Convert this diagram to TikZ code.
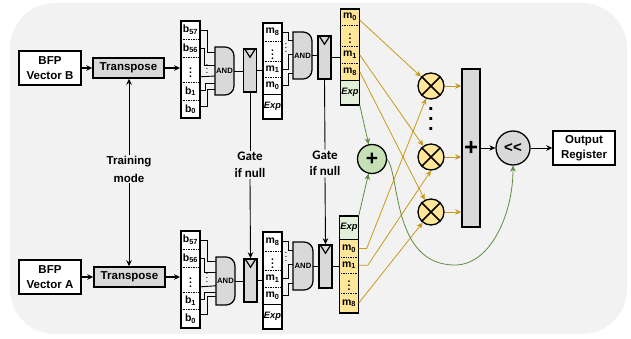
\documentclass[tikz,border=0pt]{standalone}
\usepackage{amsmath}
\usepackage{fontspec}
\setmainfont{Liberation Sans}
\newfontfamily\gatefont{Carlito}
\usetikzlibrary{arrows.meta, positioning, fit}
\definecolor{panel}{HTML}{F2F2F2}
\definecolor{unit}{HTML}{D9D9D9}
\definecolor{mant}{HTML}{FFE699}
\definecolor{expo}{HTML}{E2F0D9}
\definecolor{addgreen}{HTML}{C5E0B4}
\definecolor{wireamber}{HTML}{C99A17}
\definecolor{wiregreen}{HTML}{5E8C45}

\begin{document}
\begin{tikzpicture}[x=1pt, y=-1pt, node distance=0pt, >={Stealth[length=6pt, width=5.5pt]},
 box/.style={draw, line width=1.5pt, fill=white, align=center, inner sep=0pt, font=\bfseries\fontsize{11.5}{14.5}\selectfont},
 graybox/.style={box, fill=unit},
 regbox/.style={draw, line width=1.5pt, fill=unit, minimum width=13pt, inner sep=0pt},
 regmark/.style={line width=1.2pt},
 cell/.style={minimum width=19pt, inner sep=0pt, font=\bfseries\fontsize{10.5}{12}\selectfont},
 expcell/.style={cell, font=\bfseries\itshape\fontsize{9.3}{11}\selectfont},
 column/.style={draw, line width=1.5pt, inner sep=0pt, fit=#1},
 sep/.style={densely dotted, line width=0.7pt},
 andshape/.style={draw, line width=1.2pt, fill=unit, rounded corners=9pt},
 andlabel/.style={inner sep=0pt, minimum width=19pt, minimum height=47pt, font=\bfseries\fontsize{7.7}{9}\selectfont},
 dotlabel/.style={inner sep=0pt, font=\fontsize{10}{12}\selectfont},
 label/.style={align=center, inner sep=1pt, font=\bfseries\fontsize{11.5}{18}\selectfont},
 gatelabel/.style={align=center, inner sep=1pt, font=\gatefont\bfseries\fontsize{13}{16.5}\selectfont},
 mult/.style={draw, circle, line width=1.3pt, fill=mant, minimum size=26pt, inner sep=0pt, path picture={\draw[line width=1.6pt] (path picture bounding box.north west)--(path picture bounding box.south east) (path picture bounding box.north east)--(path picture bounding box.south west);}},
 wire/.style={line width=0.9pt},
 arrow/.style={->, line width=0.9pt},
 thickarrow/.style={->, line width=1.2pt},
 amber/.style={->, wireamber, line width=0.8pt},
 green/.style={wiregreen, line width=0.8pt}]

\useasboundingbox (0,0) rectangle (631,339);
\fill[panel, rounded corners=45pt] (10,3) rectangle (627,334);

\node[box, minimum width=62pt, minimum height=34pt] (vecB) at (50,68) {BFP\\Vector B};
\node[box, minimum width=62pt, minimum height=34pt] (vecA) at (50,277) {BFP\\Vector A};
\node[graybox, minimum width=71pt, minimum height=20pt] (transB) at (128.5,68) {Transpose};
\node[graybox, minimum width=71pt, minimum height=20pt] (transA) at (129.5,277) {Transpose};
\node[label] (train) at (129,169) {Training\\mode};

\node[cell, minimum height=18pt, fill=white] (bB57) at (190.5,30) {b\textsubscript{57}};
\node[cell, minimum height=18pt, fill=white, below=of bB57] (bB56) {b\textsubscript{56}};
\node[cell, minimum height=24pt, fill=white, below=of bB56] (bBdots) {\(\vdots\)};
\node[cell, minimum height=18pt, fill=white, below=of bBdots] (bB1) {b\textsubscript{1}};
\node[cell, minimum height=17pt, fill=white, below=of bB1] (bB0) {b\textsubscript{0}};
\node[column={(bB57)(bB0)}] (bcolB) {};
\draw[sep] (bB57.south west)--(bB57.south east) (bB56.south west)--(bB56.south east) (bBdots.south west)--(bBdots.south east) (bB1.south west)--(bB1.south east);

\node[cell, minimum height=18pt, fill=white] (bA57) at (190.5,240) {b\textsubscript{57}};
\node[cell, minimum height=18pt, fill=white, below=of bA57] (bA56) {b\textsubscript{56}};
\node[cell, minimum height=24pt, fill=white, below=of bA56] (bAdots) {\(\vdots\)};
\node[cell, minimum height=17pt, fill=white, below=of bAdots] (bA1) {b\textsubscript{1}};
\node[cell, minimum height=18pt, fill=white, below=of bA1] (bA0) {b\textsubscript{0}};
\node[column={(bA57)(bA0)}] (bcolA) {};
\draw[sep] (bA57.south west)--(bA57.south east) (bA56.south west)--(bA56.south east) (bAdots.south west)--(bAdots.south east) (bA1.south west)--(bA1.south east);

\draw[andshape] (215,47)--(234,47)--(234,95)[sharp corners]--(215,95)--cycle;
\node[andlabel] (andB1) at (224.5,71) {AND};
\draw[andshape] (216,257)--(235,257)--(235,305)[sharp corners]--(216,305)--cycle;
\node[andlabel] (andA1) at (225.5,281) {AND};
\draw[andshape] (293,32)--(312,32)--(312,79)[sharp corners]--(293,79)--cycle;
\node[andlabel] (andB2) at (302.5,55.5) {AND};
\draw[andshape] (293,242)--(313,242)--(313,290)[sharp corners]--(293,290)--cycle;
\node[andlabel] (andA2) at (303,266) {AND};

\draw[wire] (bB57.east)--++(7,0)|-([yshift=19pt]andB1.west);
\draw[wire] (bB56.east)--++(4,0)|-([yshift=6pt]andB1.west);
\draw[wire] ([yshift=-7pt]bBdots.east)--([yshift=-5pt]andB1.west);
\draw[wire] ([yshift=1pt]bB1.east)--++(5,0)|-([yshift=-12pt]andB1.west);
\draw[wire] ([yshift=3pt]bB0.east)--++(7,0)|-([yshift=-18pt]andB1.west);
\node[dotlabel] (dotsB1) at (207,66) {\(\vdots\)};

\draw[wire] (bA57.east)--++(7,0)|-([yshift=20pt]andA1.west);
\draw[wire] (bA56.east)--++(4,0)|-([yshift=9pt]andA1.west);
\draw[wire] ([yshift=-7pt]bAdots.east)--([yshift=-6pt]bAdots.east-|andA1.west);
\draw[wire] ([yshift=1pt]bA1.east)--++(4,0)|-([yshift=-11pt]andA1.west);
\draw[wire] ([yshift=4pt]bA0.east)--++(7,0)|-([yshift=-15pt]andA1.west);
\node[dotlabel] (dotsA1) at (207,275) {\(\vdots\)};

\node[regbox, minimum height=43pt] (regB1) at (250,70.5) {};
\node[regbox, minimum height=43pt] (regA1) at (250.5,280.5) {};
\node[regbox, minimum height=43pt] (regB2) at (324.5,57.5) {};
\node[regbox, minimum height=43pt] (regA2) at (325.5,266.5) {};
\draw[regmark] ([xshift=1.5pt]regB1.north west)--([yshift=-9pt]regB1.north)--([xshift=-1.5pt]regB1.north east);
\draw[regmark] ([xshift=1.5pt]regA1.north west)--([yshift=-9pt]regA1.north)--([xshift=-1.5pt]regA1.north east);
\draw[regmark] ([xshift=1.5pt]regB2.north west)--([yshift=-9pt]regB2.north)--([xshift=-1.5pt]regB2.north east);
\draw[regmark] ([xshift=1.5pt]regA2.north west)--([yshift=-9pt]regA2.north)--([xshift=-1.5pt]regA2.north east);

\node[cell, minimum height=18pt, fill=white] (mB8) at (272.5,32) {m\textsubscript{8}};
\node[cell, minimum height=20pt, fill=white, below=of mB8] (mBdots) {\(\vdots\)};
\node[cell, minimum height=15pt, fill=white, below=of mBdots] (mB1) {m\textsubscript{1}};
\node[cell, minimum height=17pt, fill=white, below=of mB1] (mB0) {m\textsubscript{0}};
\node[expcell, minimum height=24pt, fill=white, below=of mB0] (mBexp) {Exp};
\node[column={(mB8)(mBexp)}] (mcolB) {};
\draw[sep] (mB8.south west)--(mB8.south east) (mBdots.south west)--(mBdots.south east) (mB1.south west)--(mB1.south east);
\draw[wire] (mB0.south west)--(mB0.south east);

\node[cell, minimum height=19pt, fill=white] (mA8) at (272.5,241.5) {m\textsubscript{8}};
\node[cell, minimum height=19pt, fill=white, below=of mA8] (mAdots) {\(\vdots\)};
\node[cell, minimum height=16pt, fill=white, below=of mAdots] (mA1) {m\textsubscript{1}};
\node[cell, minimum height=17pt, fill=white, below=of mA1] (mA0) {m\textsubscript{0}};
\node[expcell, minimum height=24pt, fill=white, below=of mA0] (mAexp) {Exp};
\node[column={(mA8)(mAexp)}] (mcolA) {};
\draw[sep] (mA8.south west)--(mA8.south east) (mAdots.south west)--(mAdots.south east) (mA1.south west)--(mA1.south east);
\draw[wire] (mA0.south west)--(mA0.south east);

\draw[wire] (mB8.east)--++(6,0)|-([yshift=15.5pt]andB2.west);
\draw[wire] (mB1.east)--++(6,0)|-([yshift=1.5pt]andB2.west);
\draw[wire] (mB0.east)--++(6,0)|-([yshift=-17.5pt]andB2.west);
\node[dotlabel] (dotsB2) at (286,45) {\(\vdots\)};
\draw[wire] (mA8.east)--++(6,0)|-([yshift=16pt]andA2.west);
\draw[wire] (mA1.east)--++(6,0)|-([yshift=2pt]andA2.west);
\draw[wire] (mA0.east)--++(6,0)|-([yshift=-17pt]andA2.west);
\node[dotlabel] (dotsA2) at (286,254) {\(\vdots\)};

\node[cell, minimum height=16pt, fill=mant] (yB0) at (350,17) {m\textsubscript{0}};
\node[cell, minimum height=21pt, fill=mant, below=of yB0] (yBdots) {\(\vdots\)};
\node[cell, minimum height=16pt, fill=mant, below=of yBdots] (yB1) {m\textsubscript{1}};
\node[cell, minimum height=17pt, fill=mant, below=of yB1] (yB8) {m\textsubscript{8}};
\node[expcell, minimum height=24pt, fill=expo, below=of yB8] (yBexp) {Exp};
\node[column={(yB0)(yBexp)}] (ycolB) {};
\draw[sep] (yB0.south west)--(yB0.south east) (yBdots.south west)--(yBdots.south east) (yB1.south west)--(yB1.south east);
\draw[wire] (yB8.south west)--(yB8.south east);

\node[expcell, minimum height=23pt, fill=expo] (yAexp) at (349,227.5) {Exp};
\node[cell, minimum height=18pt, fill=mant, below=of yAexp] (yA0) {m\textsubscript{0}};
\node[cell, minimum height=15pt, fill=mant, below=of yA0] (yA1) {m\textsubscript{1}};
\node[cell, minimum height=20pt, fill=mant, below=of yA1] (yAdots) {\(\vdots\)};
\node[cell, minimum height=19pt, fill=mant, below=of yAdots] (yA8) {m\textsubscript{8}};
\node[column={(yAexp)(yA8)}] (ycolA) {};
\draw[wire] (yAexp.south west)--(yAexp.south east);
\draw[sep] (yA0.south west)--(yA0.south east) (yA1.south west)--(yA1.south east) (yAdots.south west)--(yAdots.south east);

\node[draw, circle, line width=1.3pt, fill=addgreen, minimum size=29pt, inner sep=0pt, font=\bfseries\fontsize{21}{21}\selectfont] (expadd) at (372,159) {+};
\node[mult] (mulA) at (431,86) {};
\node[mult] (mulB) at (431,157) {};
\node[mult] (mulC) at (431,212) {};
\node[inner sep=0pt, align=center, font=\bfseries\fontsize{20}{10}\selectfont] (muldots) at (431,119) {.\\.\\.};
\node[graybox, minimum width=18pt, minimum height=158pt, font=\bfseries\fontsize{24}{24}\selectfont] (adder) at (471,148) {+};
\node[draw, circle, line width=1.3pt, fill=unit, minimum size=34pt, inner sep=0pt, font=\bfseries\fontsize{15}{15}\selectfont] (shift) at (513,148) {{<}{<}};
\node[box, minimum width=62pt, minimum height=34pt] (out) at (584,148) {Output\\Register};
\node[gatelabel] (gateB1) at (250,165) {Gate\\if null};
\node[gatelabel] (gateB2) at (325,163.5) {Gate\\if null};

\draw[thickarrow] (vecB)--(transB);
\draw[thickarrow] (vecA)--(transA);
\draw[thickarrow] (transB.east)--(transB.east-|bcolB.west);
\draw[thickarrow] (transA.east)--(transA.east-|bcolA.west);
\draw[arrow] (train.north)--(train.north|-transB.south);
\draw[arrow] (train.south)--(train.south|-transA.north);
\draw[wire] (andB1.east)--(andB1.east-|regB1.west);
\draw[wire] (andA1.east)--(andA1.east-|regA1.west);
\draw[wire] (andB2.east)--(andB2.east-|regB2.west);
\draw[wire] (andA2.east)--(andA2.east-|regA2.west);
\draw[wire] (regB1.east)--(regB1.east-|mcolB.west);
\draw[wire] (regA1.east)--(regA1.east-|mcolA.west);
\draw[wire] (regB2.east)--(regB2.east-|ycolB.west);
\draw[wire] (regA2.east)--(regA2.east-|ycolA.west);
\draw[wire] (gateB1.north)--(regB1.south);
\draw[wire] (gateB2.north)--(regB2.south);
\draw[arrow] (gateB1.south)--(regA1.north);
\draw[arrow] (gateB2.south)--(regA2.north);

\draw[amber] ([yshift=-3pt]yB0.east)--(mulA);
\draw[amber] (yB1.east)--(mulB);
\draw[amber] (yB8.east)--(mulC);
\draw[amber] (yA0.east)--++(8,0)--(mulA);
\draw[amber] (yA1.east)--++(9,0)--(mulB.south);
\draw[amber] (yA8.east)--(mulC);
\draw[amber] (mulA.east)--(mulA.east-|adder.west);
\draw[amber] (mulB.east)--(mulB.east-|adder.west);
\draw[amber] (mulC.east)--(mulC.east-|adder.west);
\draw[green, ->] (yBexp.south east)--(expadd);
\draw[green, ->] (yAexp.north east)--(expadd);
\draw[green, ->] (expadd.east) .. controls (400,175) and (392,265) .. (455,265) .. controls (490,265) and (513,215) .. (shift.south);
\draw[arrow, line width=0.7pt] (adder.east)--(shift.west);
\draw[arrow, line width=0.7pt] (shift.east)--(out.west);

\end{tikzpicture}
\end{document}
